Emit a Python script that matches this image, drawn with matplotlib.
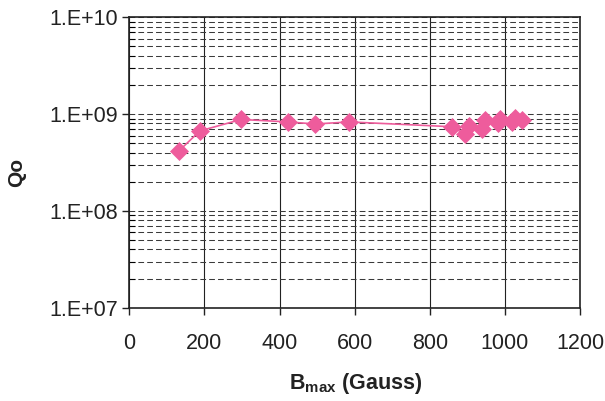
import numpy as np
import matplotlib
matplotlib.use("Agg")
import matplotlib.pyplot as plt
from matplotlib.ticker import LogLocator, FuncFormatter, NullFormatter

plt.rcParams['font.family'] = ['Liberation Sans', 'DejaVu Sans']
plt.rcParams['mathtext.fontset'] = 'custom'
plt.rcParams['mathtext.rm'] = 'Liberation Sans'
plt.rcParams['mathtext.bf'] = 'Liberation Sans:bold'

# B_max (Gauss) vs Qo
b_max = [133, 188, 298, 423, 495, 586, 860, 893, 905, 938, 946, 982, 987, 1018, 1027, 1045]
q0 = [4.2e8, 6.7e8, 8.8e8, 8.3e8, 7.9e8, 8.3e8, 7.4e8, 6.2e8, 7.5e8, 7.0e8, 8.6e8,
      8.0e8, 9.0e8, 8.3e8, 9.2e8, 8.7e8]

x_ticks = [0, 200, 400, 600, 800, 1000, 1200]
pink = '#EE5C9C'

fig = plt.figure(figsize=(6.05, 4.01), dpi=100)
ax = fig.add_axes([0.2137, 0.2327, 0.745, 0.7242])

ax.plot(b_max, q0, color=pink, lw=1.2, marker='D', ms=9.6,
        mfc=pink, mec=pink, mew=0.5, zorder=3)

ax.set_yscale('log')
ax.set_ylim(1e7, 1e10)
ax.set_xlim(0, 1200)
ax.set_xticks(x_ticks)

ax.yaxis.set_major_locator(LogLocator(base=10, numticks=10))
ax.yaxis.set_minor_locator(LogLocator(base=10, subs=np.arange(2, 10), numticks=10))
ax.yaxis.set_minor_formatter(NullFormatter())
ax.yaxis.set_major_formatter(FuncFormatter(lambda v, p: "1.E+%02d" % int(round(np.log10(v)))))

# grid: solid verticals, dashed horizontals
ax.xaxis.grid(True, which='major', color='#222222', lw=0.8, ls='-')
ax.yaxis.grid(True, which='both', color='#3a3a3a', lw=0.75, ls=(0, (5.5, 3)))
ax.set_axisbelow(True)

for s in ax.spines.values():
    s.set_linewidth(1.2)
    s.set_color('#222222')

ax.tick_params(axis='x', which='major', direction='out', length=5, width=1,
               labelsize=15.5, pad=13, colors='#222222')
ax.tick_params(axis='y', which='major', direction='out', length=5, width=1,
               labelsize=15.5, pad=3, colors='#222222')
ax.tick_params(axis='y', which='minor', direction='in', length=4, width=0.8)

fig.text(0.028, 0.569, 'Qo', rotation=90, ha='center', va='center',
         fontsize=15, fontweight='bold', color='#222222')
fig.text(0.588, 0.043, r'$\mathbf{B_{max}}$ (Gauss)', ha='center', va='center',
         fontsize=15.5, fontweight='bold', color='#222222')

fig.savefig('out.png', dpi=100)
